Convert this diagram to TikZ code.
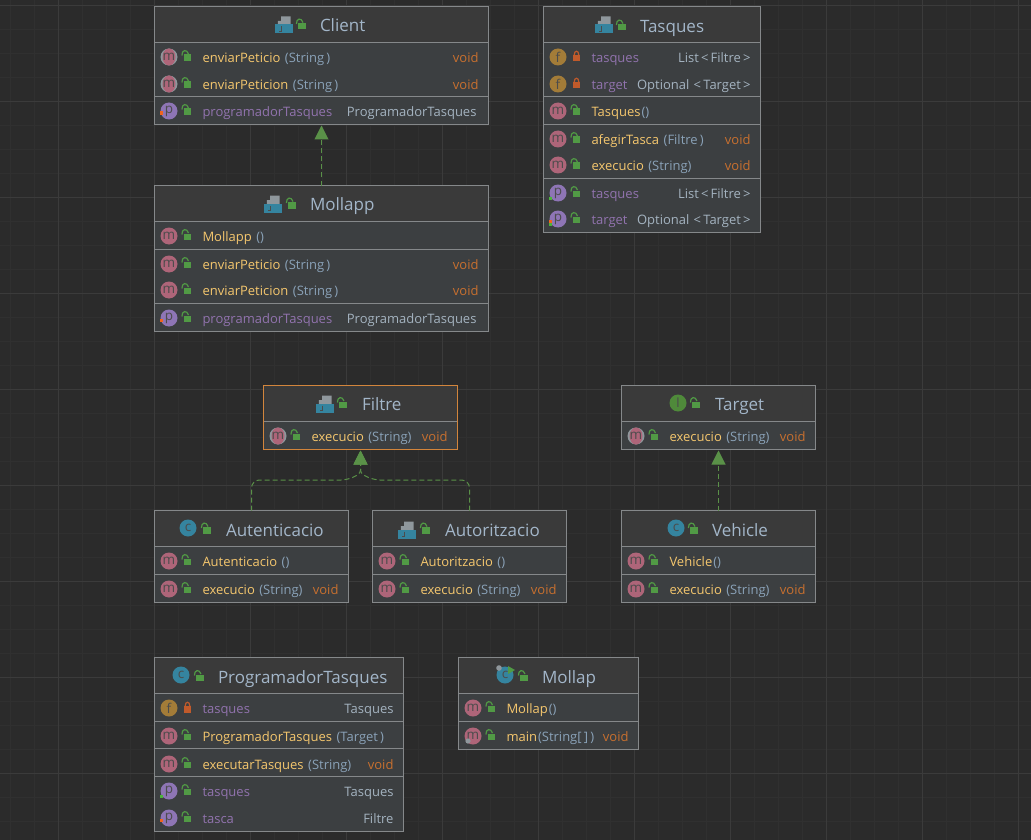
\documentclass[tikz,border=0pt]{standalone}
\usepackage{fontspec}
\setmainfont{Open Sans}
\usetikzlibrary{arrows.meta,positioning}
\definecolor{canvas}{HTML}{2B2B2B}
\definecolor{gridfine}{HTML}{303030}
\definecolor{gridbold}{HTML}{3B3B3B}
\definecolor{headfill}{HTML}{3A3A3A}
\definecolor{bodyfill}{HTML}{3C3F41}
\definecolor{boxline}{HTML}{85888A}
\definecolor{selline}{HTML}{D2853C}
\definecolor{titletext}{HTML}{A3B6C9}
\definecolor{methtext}{HTML}{F5C76E}
\definecolor{argtext}{HTML}{8AA2B8}
\definecolor{voidtext}{HTML}{C8702F}
\definecolor{proptext}{HTML}{9173AE}
\definecolor{typetext}{HTML}{A4B3C0}
\definecolor{mfill}{HTML}{AE6579}
\definecolor{pfill}{HTML}{8E75B5}
\definecolor{ffill}{HTML}{A37C38}
\definecolor{cfill}{HTML}{35849F}
\definecolor{ifill}{HTML}{4F8A3A}
\definecolor{lockgreen}{HTML}{519A45}
\definecolor{lockorange}{HTML}{C05A2B}
\definecolor{linkgreen}{HTML}{5A9148}
\definecolor{sheetgray}{HTML}{8F979C}
\definecolor{markorange}{HTML}{F0641E}
\definecolor{markgreen}{HTML}{4CB33C}
\tikzset{
  badgebase/.style={circle,inner sep=0pt,outer sep=0pt,minimum size=17pt,text=black!70,font=\fontsize{13.5}{13.5}\selectfont},
  badgem/.style={badgebase,fill=mfill,execute at begin node=m},
  badgema/.style={badgebase,fill=sheetgray,execute at begin node=m,
    path picture={\fill[mfill] (path picture bounding box.center) ellipse (6.5pt and 8.5pt);}},
  badgep/.style={badgebase,fill=pfill,execute at begin node=p},
  badgef/.style={badgebase,fill=ffill,execute at begin node=f},
  badgec/.style={badgebase,fill=cfill,execute at begin node=c},
  badgei/.style={badgebase,fill=ifill,execute at begin node=I},
  classnode/.style={rectangle,inner sep=0pt,outer sep=0pt,fill=bodyfill},
  rowtext/.style={inner sep=0pt,outer sep=0pt,text height=10.5pt,text depth=0pt,font=\fontsize{13}{15}\selectfont},
  titletxt/.style={inner sep=0pt,outer sep=0pt,anchor=west,text=titletext,text height=13pt,text depth=0pt,font=\fontsize{17}{19}\selectfont},
  sepline/.style={draw=boxline,line width=0.9pt},
  realize/.style={draw=linkgreen,line width=1pt,dash pattern=on 5pt off 3pt,shorten >=1pt,-{Triangle[length=14pt,width=14pt,fill=linkgreen]}},
  lockopen/.pic={
    \fill[lockgreen] (-3.8,-2.5) rectangle (3.8,4);
    \draw[lockgreen,line width=1.2pt] (-5.6,-1.5) .. controls (-5.8,-7.5) and (-0.5,-8) .. (1,-3);
  },
  lockshut/.pic={
    \fill[lockorange] (-3.8,-2) rectangle (3.8,4.5);
    \draw[lockorange,line width=1.2pt] (-2.3,-2) .. controls (-2.3,-7) and (2.3,-7) .. (2.3,-2);
  },
  sheeticon/.pic={
    \fill[sheetgray] (-6.2,0) -- (-6.2,-4) -- (-3,-4) -- (-3,-8.5) -- (6.5,-8.5) -- (6.5,0) -- cycle;
    \fill[cfill] (-9.3,-0.5) rectangle (9.3,8.5);
    \draw[black!70,line width=0.9pt] (-2.5,1.5) -- (-2.5,6) -- (-5.5,6);
  },
}
% one class: name, x1, y1, x2, y2, bottom of the title band
\newcommand{\classbox}[7][boxline]{
  \node[classnode,minimum width={#5-#3},minimum height={#6-#4}] (#2) at ({(#3+#5)/2},{(#4+#6)/2}) {};
  \fill[headfill] (#2.north west) rectangle (#2.east |- 0,#7);
  \draw[sepline] (#2.west |- 0,#7) -- (#2.east |- 0,#7);
  \draw[draw=#1,line width=1pt] (#2.north west) rectangle (#2.south east);
}
\newcommand{\sepat}[2]{\draw[sepline] (#1.west |- 0,#2) -- (#1.east |- 0,#2);}
% title band: name, lock x, text x, y, title
\newcommand{\headrow}[5]{
  \pic at (#2,#4) {lockopen};
  \node[titletxt] (#1t) at (#3,#4) {#5};
}
\newcommand{\ag}{\kern4.5pt}
% name, left, y, badge, lock, method, arguments
\newcommand{\ctorrow}[7]{
  \node[#4] (#1b) at ({#2+14.5},#3) {};
  \pic at ({#2+33},#3) {#5};
  \node[rowtext,anchor=west,text=methtext] (#1n) at ({#2+48},#3) {#6};
  \node[rowtext,anchor=west,text=argtext,right=0pt of #1n] (#1a) {#7};
}
% name, left, right, y, badge, lock, method, arguments, type
\newcommand{\methrow}[9]{
  \ctorrow{#1}{#2}{#4}{#5}{#6}{#7}{#8}
  \node[rowtext,anchor=east,text=voidtext] (#1r) at ({#3-10},#4) {#9};
}
% name, left, right, y, badge, lock, property, type
\newcommand{\proprow}[8]{
  \node[#5] (#1b) at ({#2+14.5},#4) {};
  \pic at ({#2+33},#4) {#6};
  \node[rowtext,anchor=west,text=proptext] (#1n) at ({#2+48},#4) {#7};
  \node[rowtext,anchor=east,text=typetext] (#1r) at ({#3-10},#4) {#8};
}
\newcommand{\setmark}[2]{\fill[markorange] ({#1+5.6},{#2+0.5}) rectangle ({#1+8.8},{#2+3.7});}
\newcommand{\getmark}[2]{\fill[markgreen] ({#1+5.6},{#2+4.2}) rectangle ({#1+8.8},{#2+7.4});}
\begin{document}
\begin{tikzpicture}[x=1pt,y=-1pt]
  \useasboundingbox (0,0) rectangle (1031,840);
  \fill[canvas] (0,0) rectangle (1031,840);
  % grid
  \foreach \gx in {10,34,...,1030} \draw[gridfine] (\gx,0) -- (\gx,840);
  \foreach \gy in {5,29,...,840} \draw[gridfine] (0,\gy) -- (1031,\gy);
  \foreach \gx in {58,154,...,1030} \draw[gridbold] (\gx,0) -- (\gx,840);
  \foreach \gy in {5,101,...,840} \draw[gridbold] (0,\gy) -- (1031,\gy);

  % Client
  \classbox{client}{154.5}{6.5}{488.5}{124.5}{42.5}
  \sepat{client}{96.5}
  \pic at (284,25) {sheeticon};
  \headrow{client}{302}{320}{25.5}{Client}
  \methrow{clienta}{154.5}{488.5}{57}{badgema}{lockopen}{enviarPeticio}{\ag(String\,)}{void}
  \methrow{clientb}{154.5}{488.5}{84}{badgema}{lockopen}{enviarPeticion}{\ag(String\,)}{void}
  \proprow{clientc}{154.5}{486.5}{111}{badgep}{lockopen}{programadorTasques}{ProgramadorTasques}
  \setmark{154.5}{111}

  % Mollapp
  \classbox{mollapp}{154.5}{185.5}{488.5}{331.5}{221.5}
  \sepat{mollapp}{249.5}
  \sepat{mollapp}{303.5}
  \pic at (273,204) {sheeticon};
  \headrow{mollapp}{292}{310}{204.5}{Mollapp}
  \ctorrow{mollappa}{154.5}{236}{badgem}{lockopen}{Mollapp}{\ag()}
  \methrow{mollappb}{154.5}{488.5}{264}{badgem}{lockopen}{enviarPeticio}{\ag(String\,)}{void}
  \methrow{mollappc}{154.5}{488.5}{290}{badgem}{lockopen}{enviarPeticion}{\ag(String\,)}{void}
  \proprow{mollappd}{154.5}{486.5}{318}{badgep}{lockopen}{programadorTasques}{ProgramadorTasques}
  \setmark{154.5}{318}

  % Tasques
  \classbox{tasques}{543.5}{6.5}{760.5}{232.5}{42.5}
  \sepat{tasques}{96.5}
  \sepat{tasques}{124.5}
  \sepat{tasques}{178.5}
  \pic at (604,25) {sheeticon};
  \headrow{tasques}{622}{640}{26.5}{Tasques}
  \proprow{tasquesa}{543.5}{760.5}{57}{badgef}{lockshut}{tasques}{List\,<\,Filtre\,>}
  \proprow{tasquesb}{543.5}{760.5}{84}{badgef}{lockshut}{target}{Optional\,\,<\,Target\,>}
  \ctorrow{tasquesc}{543.5}{111}{badgem}{lockopen}{Tasques}{\kern1pt()}
  \methrow{tasquesd}{543.5}{760.5}{139}{badgem}{lockopen}{afegirTasca}{\ag(Filtre\,)}{void}
  \methrow{tasquese}{543.5}{760.5}{165}{badgem}{lockopen}{execucio}{\ag(String)}{void}
  \proprow{tasquesf}{543.5}{760.5}{193}{badgep}{lockopen}{tasques}{List\,<\,Filtre\,>}
  \getmark{543.5}{193}
  \proprow{tasquesg}{543.5}{760.5}{219}{badgep}{lockopen}{target}{Optional\,\,<\,Target\,>}
  \setmark{543.5}{219}
  \getmark{543.5}{219}

  % Filtre
  \classbox[selline]{filtre}{263.5}{385.5}{457.5}{449.5}{421.5}
  \pic at (325,404) {sheeticon};
  \headrow{filtre}{343}{362}{404}{Filtre}
  \methrow{filtrea}{263.5}{457.5}{436}{badgema}{lockopen}{execucio}{\ag(String)}{void}

  % Target
  \classbox{target}{621.5}{385.5}{815.5}{449.5}{421.5}
  \node[badgei] (targeti) at (678,403) {};
  \headrow{target}{696}{715}{404}{Target}
  \methrow{targeta}{621.5}{815.5}{436}{badgema}{lockopen}{execucio}{\ag(String)}{void}

  % Autenticacio
  \classbox{autenticacio}{154.5}{510.5}{348.5}{602.5}{546.5}
  \node[badgec] (autenticacioi) at (188,528) {};
  \headrow{autenticacio}{207}{226}{529.5}{Autenticacio}
  \ctorrow{autenticacioa}{154.5}{561}{badgem}{lockopen}{Autenticacio}{\ag()}
  \sepat{autenticacio}{574.5}
  \methrow{autenticaciob}{154.5}{348.5}{589}{badgem}{lockopen}{execucio}{\ag(String)}{void}

  % Autoritzacio
  \classbox{autoritzacio}{372.5}{510.5}{566.5}{602.5}{546.5}
  \pic at (407,530) {sheeticon};
  \headrow{autoritzacio}{426}{445}{529.5}{Autoritzacio}
  \ctorrow{autoritzacioa}{372.5}{561}{badgem}{lockopen}{Autoritzacio}{\ag()}
  \sepat{autoritzacio}{574.5}
  \methrow{autoritzaciob}{372.5}{566.5}{589}{badgem}{lockopen}{execucio}{\ag(String)}{void}

  % Vehicle
  \classbox{vehicle}{621.5}{510.5}{815.5}{602.5}{546.5}
  \node[badgec] (vehiclei) at (676,528) {};
  \headrow{vehicle}{694}{712}{529.5}{Vehicle}
  \ctorrow{vehiclea}{621.5}{561}{badgem}{lockopen}{Vehicle}{\kern1pt()}
  \sepat{vehicle}{574.5}
  \methrow{vehicleb}{621.5}{815.5}{589}{badgem}{lockopen}{execucio}{\ag(String)}{void}

  % ProgramadorTasques
  \classbox{programador}{154.5}{657.5}{403.5}{831.5}{693.5}
  \sepat{programador}{721.5}
  \sepat{programador}{748.5}
  \sepat{programador}{776.5}
  \node[badgec] (programadori) at (181,675) {};
  \headrow{programador}{200}{218}{677}{ProgramadorTasques}
  \proprow{programadora}{154.5}{403.5}{708}{badgef}{lockshut}{tasques}{Tasques}
  \ctorrow{programadorb}{154.5}{736}{badgem}{lockopen}{ProgramadorTasques}{\ag(Target\,)}
  \methrow{programadorc}{154.5}{403.5}{764}{badgem}{lockopen}{executarTasques}{\ag(String)}{void}
  \proprow{programadord}{154.5}{403.5}{791}{badgep}{lockopen}{tasques}{Tasques}
  \getmark{154.5}{791}
  \proprow{programadore}{154.5}{403.5}{818}{badgep}{lockopen}{tasca}{Filtre}
  \setmark{154.5}{818}

  % Mollap
  \classbox{mollap}{458.5}{657.5}{638.5}{749.5}{693.5}
  \sepat{mollap}{721.5}
  \node[badgec] (mollapi) at (505,675) {};
  \fill[sheetgray] (499,668) circle (2.8pt);
  \fill[lockgreen] (508,666) -- (515,670) -- (508,674) -- cycle;
  \headrow{mollap}{524}{542}{677}{Mollap}
  \ctorrow{mollapa}{458.5}{708}{badgem}{lockopen}{Mollap}{\kern1pt()}
  \ctorrow{mollapb}{458.5}{736}{badgem}{lockopen}{main}{\kern1pt(String[\,]\,)}
  \node[rowtext,anchor=east,text=voidtext] (mollapbr) at (628.5,736) {void};
  \fill[sheetgray] (468,741) circle (2.6pt);

  % realizations
  \coordinate (filtreleft) at (349,480);
  \coordinate (filtreright) at (372,480);
  \coordinate (filtrejoin) at (360.5,473);
  \draw[realize] (mollapp.north) -- (client.south);
  \draw[realize] (vehicle.north) -- (target.south);
  \draw[realize,rounded corners=8pt] (autenticacio.north) |- (filtreleft) [rounded corners=3pt] -- (filtrejoin) [sharp corners] -- (filtre.south);
  \draw[realize,rounded corners=8pt] (autoritzacio.north) |- (filtreright) [rounded corners=3pt] -- (filtrejoin) [sharp corners] -- (filtre.south);
\end{tikzpicture}
\end{document}
